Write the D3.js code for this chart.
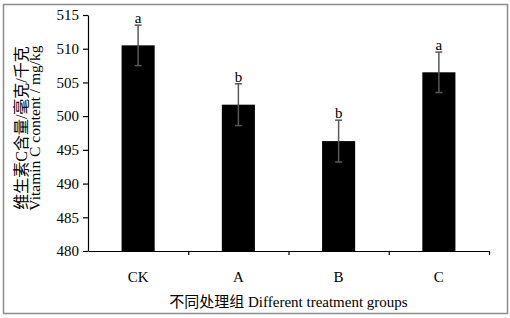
<!DOCTYPE html>
<html>
<head>
<meta charset="utf-8">
<script src="https://cdn.jsdelivr.net/npm/d3@7"></script>
<style>
  body { margin: 0; background: #fff; }
  svg text { font-family: "Liberation Serif", "Times New Roman", "Noto Sans CJK SC", serif; }
</style>
</head>
<body>
<div class="chart"></div>
<script>
const groups = ["CK", "A", "B", "C"];
const means = [510.5, 501.7, 496.3, 506.5];
const errors = [3.0, 3.1, 3.1, 3.0];
const letters = ["a", "b", "b", "a"];
const yTicks = [480, 485, 490, 495, 500, 505, 510, 515];

const width = 510, height = 318;
const margin = { left: 88, right: 21, top: 15, bottom: 67 };

const svg = d3.select(".chart").append("svg")
    .attr("width", width)
    .attr("height", height);

// outer frame
svg.append("rect")
    .attr("x", 3.5).attr("y", 4.5)
    .attr("width", 504).attr("height", 309)
    .attr("fill", "none")
    .attr("stroke", "#8c8c8c")
    .attr("stroke-width", 1.5);

const x = d3.scaleBand()
    .domain(groups)
    .range([margin.left, width - margin.right])
    .paddingInner(0.67)
    .paddingOuter(0.335);

const y = d3.scaleLinear()
    .domain([480, 515])
    .range([height - margin.bottom, margin.top]);

// bars
svg.selectAll("rect.bar")
    .data(groups)
    .join("rect")
    .attr("class", "bar")
    .attr("x", d => x(d))
    .attr("width", x.bandwidth())
    .attr("y", (d, i) => y(means[i]))
    .attr("height", (d, i) => y(480) - y(means[i]))
    .attr("fill", "#000");

// error bars
const eb = svg.selectAll("g.err")
    .data(groups)
    .join("g")
    .attr("class", "err")
    .attr("stroke", "#595959")
    .attr("stroke-width", 1.5);

eb.append("line")
    .attr("x1", d => x(d) + x.bandwidth() / 2)
    .attr("x2", d => x(d) + x.bandwidth() / 2)
    .attr("y1", (d, i) => y(means[i] + errors[i]))
    .attr("y2", (d, i) => y(means[i] - errors[i]));

[1, -1].forEach(s => {
    eb.append("line")
        .attr("x1", d => x(d) + x.bandwidth() / 2 - 3.5)
        .attr("x2", d => x(d) + x.bandwidth() / 2 + 3.5)
        .attr("y1", (d, i) => y(means[i] + s * errors[i]))
        .attr("y2", (d, i) => y(means[i] + s * errors[i]));
});

// significance letters
svg.selectAll("text.sig")
    .data(groups)
    .join("text")
    .attr("class", "sig")
    .attr("x", d => x(d) + x.bandwidth() / 2)
    .attr("y", (d, i) => y(means[i] + errors[i]) - 2)
    .attr("text-anchor", "middle")
    .attr("font-size", 15)
    .text((d, i) => letters[i]);

// y axis
const yAxis = svg.append("g")
    .attr("transform", `translate(${margin.left},0)`)
    .call(d3.axisLeft(y).tickValues(yTicks).tickSize(5).tickPadding(4).tickSizeOuter(0));
yAxis.selectAll("text").attr("font-size", 15).attr("fill", "#000")
    .style("font-family", '"Liberation Serif", serif');
yAxis.selectAll("line, path").attr("stroke", "#000").attr("stroke-width", 1.2);

// x axis: tick marks at category boundaries
const xb = d3.scaleLinear().domain([0, groups.length]).range([margin.left, width - margin.right]);
const xAxis = svg.append("g")
    .attr("transform", `translate(0,${height - margin.bottom})`)
    .call(d3.axisBottom(xb).tickValues(d3.range(1, groups.length + 1)).tickFormat("").tickSize(4).tickSizeOuter(0));
xAxis.selectAll("line, path").attr("stroke", "#000").attr("stroke-width", 1.2);

// category labels
svg.selectAll("text.cat")
    .data(groups)
    .join("text")
    .attr("class", "cat")
    .attr("x", d => x(d) + x.bandwidth() / 2)
    .attr("y", 282)
    .attr("text-anchor", "middle")
    .attr("font-size", 15)
    .text(d => d);

// axis titles
svg.append("text")
    .attr("x", (margin.left + width - margin.right) / 2)
    .attr("y", 307)
    .attr("text-anchor", "middle")
    .attr("font-size", 15)
    .text("不同处理组 Different treatment groups");

const yt = svg.append("text")
    .attr("transform", "translate(0,128) rotate(-90)")
    .attr("text-anchor", "middle")
    .attr("font-size", 15);
yt.append("tspan").attr("x", 0).attr("y", 26.5).attr("font-size", 16).text("维生素C含量/毫克/千克");
yt.append("tspan").attr("x", 0).attr("y", 39.5).attr("font-size", 15.5).text("Vitamin C content / mg/kg");
</script>
</body>
</html>
